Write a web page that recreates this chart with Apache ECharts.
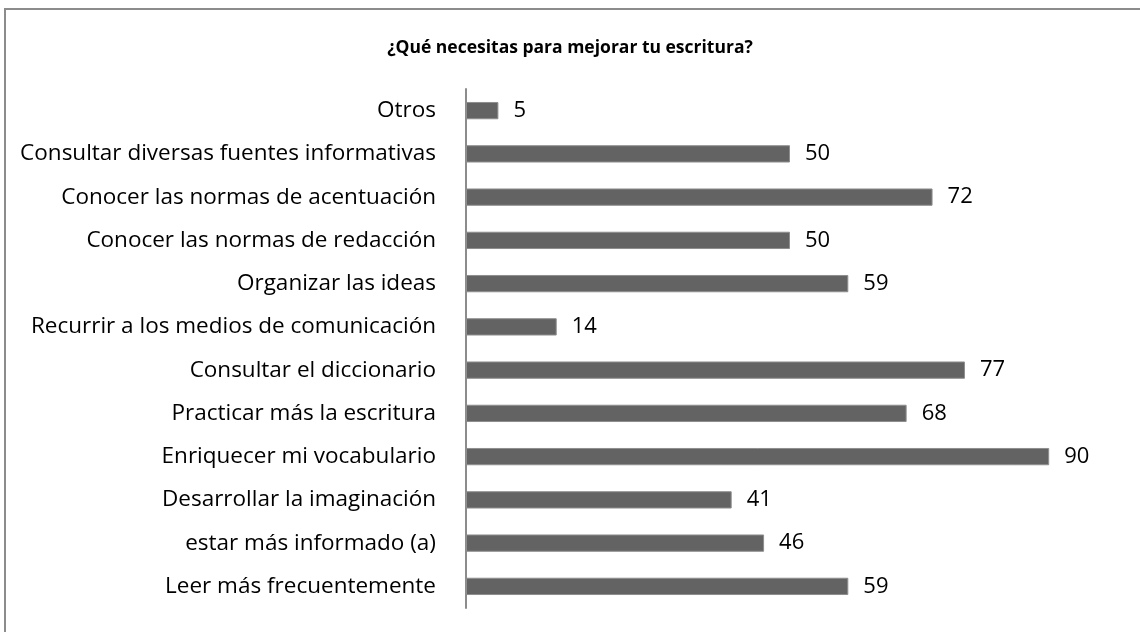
<html>
<head>
    <meta charset="utf-8">
    <title>¿Qué necesitas para mejorar tu escritura?</title>
    <script src="https://cdn.jsdelivr.net/npm/echarts@6.0.0/dist/echarts.min.js"></script>
    <style>
        body { margin: 0; background: #fff; }
    </style>
</head>
<body>
<div id="chartmain" style="width:1140px; height:632px;"></div>
<script type="text/javascript">
    // categorias de arriba hacia abajo
    var categorias = [
        'Otros',
        'Consultar diversas fuentes informativas',
        'Conocer las normas de acentuación',
        'Conocer las normas de redacción',
        'Organizar las ideas',
        'Recurrir a los medios de comunicación',
        'Consultar el diccionario',
        'Practicar más la escritura',
        'Enriquecer mi vocabulario',
        'Desarrollar la imaginación',
        'estar más informado (a)',
        'Leer más frecuentemente'
    ];
    var valores = [5, 50, 72, 50, 59, 14, 77, 68, 90, 41, 46, 59];

    var myChart = echarts.init(document.getElementById('chartmain'));
    myChart.setOption({
        animation: false,
        textStyle: { fontFamily: 'Open Sans' },
        title: {
            text: '¿Qué necesitas para mejorar tu escritura?',
            left: 'center',
            top: 34,
            textStyle: { fontSize: 17.5, fontWeight: 'bold', color: '#000', fontFamily: 'Open Sans' }
        },
        graphic: [{
            type: 'rect',
            shape: { x: 5, y: 9, width: 1200, height: 700 },
            style: { fill: 'none', stroke: '#8c8c8c', lineWidth: 2 },
            silent: true
        }],
        grid: { left: 466, right: 26, top: 89, bottom: 24 },
        xAxis: {
            type: 'value',
            min: 0,
            max: 100,
            show: false
        },
        yAxis: {
            type: 'category',
            inverse: true,
            data: categorias,
            axisLine: { lineStyle: { color: '#8c8c8c', width: 2 } },
            axisTick: { show: false },
            axisLabel: { fontSize: 22.5, color: '#000', margin: 30 }
        },
        series: [{
            type: 'bar',
            data: valores,
            barCategoryGap: '60%',
            itemStyle: { color: '#636363', borderColor: '#8f8f8f', borderWidth: 1 },
            label: {
                show: true,
                position: 'right',
                distance: 15,
                fontSize: 22,
                color: '#000'
            }
        }]
    });
</script>
</body>
</html>
